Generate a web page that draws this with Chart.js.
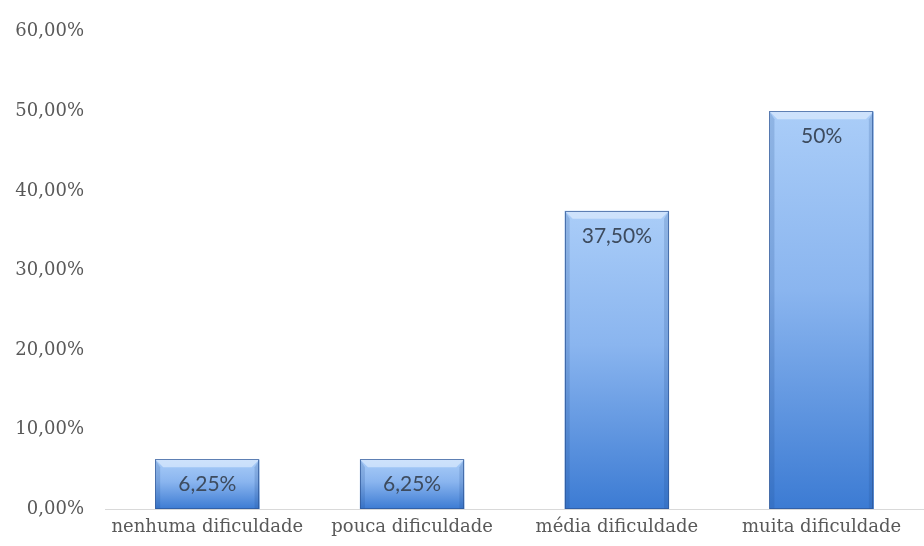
<!DOCTYPE html>
<html>
<head>
<meta charset="utf-8">
<script src="https://cdn.jsdelivr.net/npm/chart.js@4/dist/chart.umd.min.js"></script>
<style>
  html, body { margin: 0; padding: 0; background: #fff; }
  #wrap { width: 924px; height: 546px; position: relative; }
</style>
</head>
<body>
<div id="wrap"><canvas id="chart"></canvas></div>
<script>
// data
var categories = ['nenhuma dificuldade', 'pouca dificuldade', 'média dificuldade', 'muita dificuldade']
var percentValues = [6.25, 6.25, 37.5, 50]
var valueLabels = ['6,25%', '6,25%', '37,50%', '50%']
var yTickMax = 60
var yTickStep = 10

var serifFont = '"DejaVu Serif", "Liberation Serif", serif'

// vertical gradient per bar, light at the top, darker at the base
function barGradient(context) {
  var chart = context.chart
  if (!chart.chartArea || context.dataIndex === undefined) return '#6a9de3'
  var yScale = chart.scales.y
  var top = yScale.getPixelForValue(context.raw)
  var base = yScale.getPixelForValue(0)
  var g = chart.ctx.createLinearGradient(0, top, 0, base)
  g.addColorStop(0, '#aacdf8')
  g.addColorStop(0.45, '#8ab5ef')
  g.addColorStop(1, '#3c7bd3')
  return g
}

// bevel edges and value labels, placed from the bar elements
var bevelAndLabels = {
  id: 'bevelAndLabels',
  afterDatasetsDraw: function(chart) {
    var ctx = chart.ctx
    var meta = chart.getDatasetMeta(0)
    meta.data.forEach(function(bar, i) {
      var p = bar.getProps(['x', 'y', 'base', 'width'], true)
      var l = p.x - p.width / 2
      var r = p.x + p.width / 2
      var t = p.y
      var b = p.base
      var d = 8
      var s = 5
      ctx.save()
      // top bevel
      ctx.fillStyle = 'rgba(235,244,255,0.55)'
      ctx.beginPath()
      ctx.moveTo(l, t)
      ctx.lineTo(r, t)
      ctx.lineTo(r - d, t + d)
      ctx.lineTo(l + d, t + d)
      ctx.closePath()
      ctx.fill()
      // side bevels
      ctx.fillStyle = 'rgba(30,70,140,0.18)'
      ctx.beginPath()
      ctx.moveTo(l, t)
      ctx.lineTo(l + s, t + d)
      ctx.lineTo(l + s, b)
      ctx.lineTo(l, b)
      ctx.closePath()
      ctx.fill()
      ctx.beginPath()
      ctx.moveTo(r, t)
      ctx.lineTo(r - s, t + d)
      ctx.lineTo(r - s, b)
      ctx.lineTo(r, b)
      ctx.closePath()
      ctx.fill()
      // outline
      ctx.strokeStyle = 'rgba(45,85,150,0.7)'
      ctx.lineWidth = 1
      ctx.strokeRect(Math.round(l) + 0.5, Math.round(t) + 0.5, Math.round(r - l) - 1, Math.round(b - t) - 1)
      // value label
      ctx.fillStyle = '#3d4b5e'
      ctx.font = '21px Lato, "Open Sans", sans-serif'
      ctx.textAlign = 'center'
      ctx.textBaseline = 'middle'
      ctx.fillText(valueLabels[i], p.x, t + 25)
      ctx.restore()
    })
  }
}

new Chart(document.getElementById('chart').getContext('2d'), {
  type: 'bar',
  data: {
    labels: categories,
    datasets: [{
      data: percentValues,
      backgroundColor: barGradient,
      borderWidth: 0,
      barPercentage: 0.51,
      categoryPercentage: 1
    }]
  },
  options: {
    responsive: true,
    maintainAspectRatio: false,
    animation: false,
    layout: { padding: { top: 27, right: 0, bottom: 0, left: 0 } },
    plugins: {
      legend: { display: false },
      tooltip: { enabled: false }
    },
    scales: {
      x: {
        grid: { display: true, color: 'rgba(0,0,0,0)', drawTicks: false },
        border: { display: true, color: '#d9d9d9', width: 1 },
        ticks: {
          color: '#595959',
          padding: 8,
          maxRotation: 0,
          autoSkip: false,
          font: { family: serifFont, size: 18 }
        },
        afterFit: function(scale) { scale.height = 37 }
      },
      y: {
        min: 0,
        max: yTickMax,
        grid: { display: false, drawTicks: false },
        border: { display: false },
        ticks: {
          stepSize: yTickStep,
          color: '#595959',
          padding: 21,
          font: { family: serifFont, size: 18 },
          callback: function(v) { return v.toFixed(2).replace('.', ',') + '%' }
        },
        afterFit: function(scale) { scale.width = 105 }
      }
    }
  },
  plugins: [bevelAndLabels]
})
</script>
</body>
</html>
